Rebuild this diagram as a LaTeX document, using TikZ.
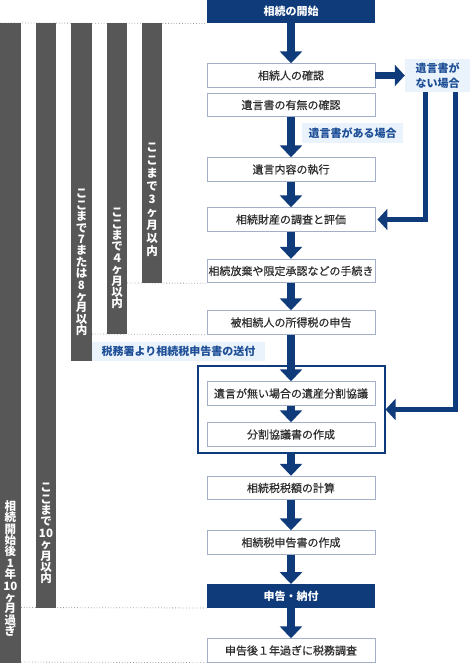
\documentclass[tikz,border=0pt]{standalone}
\usepackage{fontspec}
\setmainfont{Noto Sans CJK JP}
\newfontfamily\medfont{Noto Sans CJK JP}[FakeBold=0.5]
\usetikzlibrary{arrows.meta}
\definecolor{navy}{HTML}{0F3B7B}
\definecolor{bargray}{HTML}{575757}
\definecolor{lblbg}{HTML}{EAF3FC}
\definecolor{lbltext}{HTML}{1D4E96}
\definecolor{boxline}{HTML}{A3AFC6}
\definecolor{boxtext}{HTML}{2E2E2E}
\definecolor{dotgray}{HTML}{A0A0A0}
\begin{document}
\begin{tikzpicture}[x=1pt,y=-1pt,
  box/.style={draw=boxline, line width=0.9pt, fill=white, minimum width=168pt, minimum height=23.5pt, inner sep=0pt, text=boxtext, font=\medfont\fontsize{11}{13}\selectfont},
  darkbox/.style={fill=navy, minimum width=168pt, minimum height=23.5pt, inner sep=0pt, text=white, font=\bfseries\fontsize{11}{13}\selectfont},
  lbl/.style={fill=lblbg, inner sep=0pt, text=lbltext, font=\bfseries\fontsize{11}{13}\selectfont},
  bar/.style={fill=bargray, inner sep=0pt, anchor=north west},
  vtext/.style={text=white, inner sep=0pt, align=center, font=\bfseries\fontsize{11.5}{11.4}\selectfont},
  flow/.style={draw=navy, line width=8pt, -{Triangle[width=22pt,length=12pt]}},
  side/.style={draw=navy, line width=5pt, -{Triangle[width=21pt,length=10pt]}},
  dotline/.style={draw=dotgray, line width=0.8pt, dotted}
]
\fill[white] (0,0) rectangle (474,663);
\useasboundingbox (0,0) rectangle (474,663);

% main column
\node[darkbox] (s0) at (291,11.5) {相続の開始};
\node[box] (b1) at (291,75.5) {相続人の確認};
\node[box] (b2) at (291,105) {遺言書の有無の確認};
\node[box] (b3) at (291,169.5) {遺言内容の執行};
\node[box] (b4) at (291,219.5) {相続財産の調査と評価};
\node[box] (b5) at (291,271) {相続放棄や限定承認などの手続き};
\node[box] (b6) at (291,322.5) {被相続人の所得税の申告};
\node[draw=navy, line width=1.1pt, minimum width=187pt, minimum height=87pt, inner sep=0pt] (fr) at (291.5,409.5) {};
\node[box] (b7) at (291,393.5) {遺言が無い場合の遺産分割協議};
\node[box] (b8) at (291,434.5) {分割協議書の作成};
\node[box] (b9) at (291,488) {相続税税額の計算};
\node[box] (b10) at (291,542.5) {相続税申告書の作成};
\node[darkbox] (b11) at (291,596) {申告・納付};
\node[box] (b12) at (291,650.5) {申告後１年過ぎに税務調査};

% labels
\node[lbl, minimum width=101pt, minimum height=20pt] (l1) at (352.5,133) {遺言書がある場合};
\node[lbl, minimum width=173pt, minimum height=19pt] (l2) at (178.5,351.5) {税務署より相続税申告書の送付};
\node[lbl, minimum width=65pt, minimum height=33pt, align=center, font=\bfseries\fontsize{11}{15}\selectfont] (l3) at (437.5,75.5) {遺言書が\\ない場合};

% dotted lines
\draw[dotline] (0,23) -- (s0.south west);
\coordinate (d5) at (127,283);
\draw[dotline] (d5) -- (b5.south west);
\coordinate (d4) at (92,334);
\draw[dotline] (d4) -- (b6.south west);
\coordinate (d2) at (21,607.5);
\draw[dotline] (d2) -- (b11.south west);
\coordinate (d1) at (21,662);
\draw[dotline] (d1) -- (b12.south west);

% bars
\node[bar, minimum width=21pt, minimum height=640pt] (bar1) at (0,23) {};
\node[bar, minimum width=20pt, minimum height=584.5pt] (bar2) at (36,23) {};
\node[bar, minimum width=21pt, minimum height=338pt] (bar3) at (71,23) {};
\node[bar, minimum width=20pt, minimum height=311pt] (bar4) at (107,23) {};
\node[bar, minimum width=20pt, minimum height=260pt] (bar5) at (142,23) {};

\node[vtext] (t1) at (10.5,568.5) {相\\続\\開\\始\\後\\1\\年\\10\\ヶ\\月\\過\\ぎ};
\node[vtext] (t2) at (46,533.5) {こ\\こ\\ま\\で\\10\\ヶ\\月\\以\\内};
\node[vtext] (t3) at (81.5,262.5) {こ\\こ\\ま\\で\\7\\ま\\た\\は\\8\\ヶ\\月\\以\\内};
\node[vtext] (t4) at (117,258.5) {こ\\こ\\ま\\で\\４\\ヶ\\月\\以\\内};
\node[vtext, font=\bfseries\fontsize{11.5}{13}\selectfont] (t5) at (152,200) {こ\\こ\\ま\\で\\3\\ヶ\\月\\以\\内};

% flow arrows
\draw[flow] (s0.south) -- (b1.north);
\draw[flow] (b2.south) -- (b3.north);
\draw[flow] (b3.south) -- (b4.north);
\draw[flow] (b4.south) -- (b5.north);
\draw[flow] (b5.south) -- (b6.north);
\draw[flow] (b6.south) -- (b7.north);
\draw[flow] (b7.south) -- (b8.north);
\draw[flow] (fr.south -| b8.south) -- (b9.north);
\draw[flow] (b9.south) -- (b10.north);
\draw[flow] (b10.south) -- (b11.north);
\draw[flow] (b11.south) -- (b12.north);

% side arrows
\draw[navy, line width=7pt, -{Triangle[width=21pt,length=10pt]}] (b1.east) -- (l3.west);
\coordinate (c1) at (425.5,92);
\coordinate (c2) at (455.5,92);
\draw[side, shorten >=2pt] (c1) |- (b4.east);
\draw[side] (c2) |- (fr.east);
\end{tikzpicture}
\end{document}
